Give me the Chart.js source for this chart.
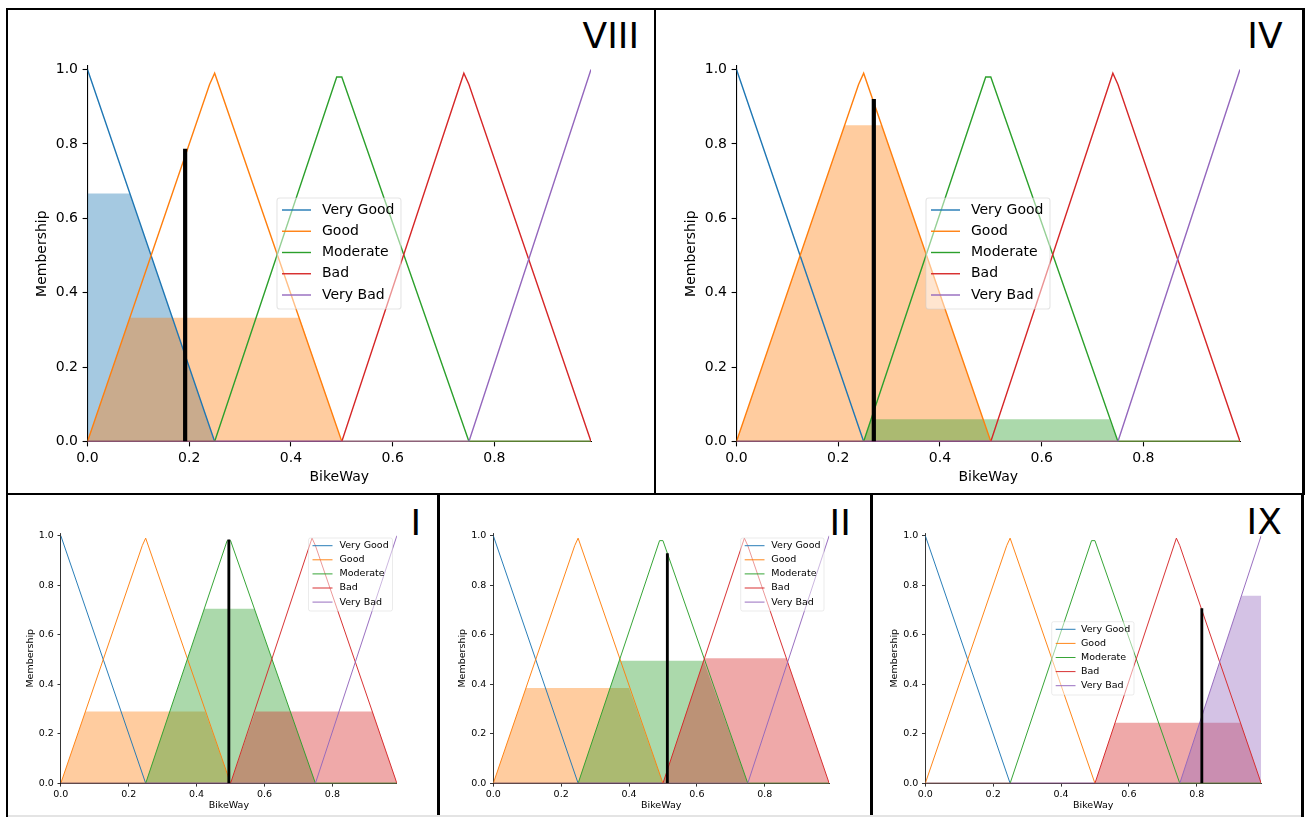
<!DOCTYPE html>
<html>
<head>
<meta charset="utf-8">
<title>BikeWay membership</title>
<script src="https://cdn.jsdelivr.net/npm/chart.js@4.4.1/dist/chart.umd.min.js"></script>
<style>
  html, body { margin: 0; padding: 0; background: #fff; }
  body { width: 1307px; height: 817px; position: relative; overflow: hidden; font-family: "DejaVu Sans", sans-serif; }
  canvas { position: absolute; }
  .rule { position: absolute; background: #000; }
  .tag { position: absolute; font-family: "DejaVu Sans", sans-serif; font-size: 36px; line-height: 36px; color: #000; white-space: nowrap; }
</style>
</head>
<body>
<div class="rule" style="left:6px;top:7.8px;width:1299px;height:2.5px"></div>
<div class="rule" style="left:5.8px;top:7.8px;width:2.5px;height:810px"></div>
<div class="rule" style="left:653.5px;top:7.8px;width:2.5px;height:487px"></div>
<div class="rule" style="left:1302px;top:7.8px;width:2.5px;height:487px"></div>
<div class="rule" style="left:6px;top:492.7px;width:1299px;height:2.5px"></div>
<div class="rule" style="left:437.3px;top:493px;width:2.6px;height:324px"></div>
<div class="rule" style="left:870px;top:493px;width:2.6px;height:324px"></div>
<div class="rule" style="left:1301px;top:493px;width:2.5px;height:324px"></div>
<div class="rule" style="left:8px;top:815px;width:1293px;height:2px;background:#e4e4e4"></div>

<div class="tag" style="left:582.6px;top:17.9px">VIII</div>
<div class="tag" style="left:1247.3px;top:17.9px">IV</div>
<div class="tag" style="left:410.6px;top:505.2px">I</div>
<div class="tag" style="left:829.6px;top:505.2px">II</div>
<div class="tag" style="left:1246.6px;top:504.2px">IX</div>

<script>
// ---- terms of the BikeWay variable ----
const termNames = ['Very Good', 'Good', 'Moderate', 'Bad', 'Very Bad'];
const xTicks = [0, 0.2, 0.4, 0.6, 0.8];
const yTicks = [0, 0.2, 0.4, 0.6, 0.8, 1.0];

// membership function vertices
const veryGoodX = [0, 0.25, 0.99];
const veryGoodY = [1, 0, 0];
const goodX = [0, 0.24, 0.25, 0.5, 0.99];
const goodY = [0, 0.96, 0.99, 0, 0];
const moderateX = [0, 0.25, 0.49, 0.5, 0.75, 0.99];
const moderateY = [0, 0, 0.98, 0.98, 0, 0];
const badX = [0, 0.5, 0.74, 0.75, 0.99];
const badY = [0, 0, 0.99, 0.96, 0];
const veryBadX = [0, 0.75, 0.99];
const veryBadY = [0, 0, 1];

// activated (clipped) terms and crisp output, case VIII
const viiiVeryGoodFillX = [0, 0.083, 0.25];
const viiiVeryGoodFillY = [0.667, 0.667, 0];
const viiiGoodFillX = [0, 0.083, 0.417, 0.5];
const viiiGoodFillY = [0, 0.333, 0.333, 0];
const viiiCrisp = [0.192, 0.787];

// case IV
const ivGoodFillX = [0, 0.2125, 0.285, 0.5];
const ivGoodFillY = [0, 0.85, 0.85, 0];
const ivModerateFillX = [0.25, 0.265, 0.733, 0.75];
const ivModerateFillY = [0, 0.06, 0.06, 0];
const ivCrisp = [0.27, 0.921];

// case I
const iGoodFillX = [0, 0.0725, 0.425, 0.5];
const iGoodFillY = [0, 0.29, 0.29, 0];
const iModerateFillX = [0.25, 0.423, 0.57, 0.75];
const iModerateFillY = [0, 0.705, 0.705, 0];
const iBadFillX = [0.5, 0.573, 0.918, 0.99];
const iBadFillY = [0, 0.29, 0.29, 0];
const iCrisp = [0.495, 0.985];

// case II
const iiGoodFillX = [0, 0.096, 0.4, 0.5];
const iiGoodFillY = [0, 0.385, 0.385, 0];
const iiModerateFillX = [0.25, 0.371, 0.62, 0.75];
const iiModerateFillY = [0, 0.495, 0.495, 0];
const iiBadFillX = [0.5, 0.622, 0.864, 0.99];
const iiBadFillY = [0, 0.505, 0.505, 0];
const iiCrisp = [0.513, 0.929];

// case IX
const ixBadFillX = [0.5, 0.559, 0.929, 0.99];
const ixBadFillY = [0, 0.245, 0.245, 0];
const ixVeryBadFillX = [0.75, 0.932, 0.99];
const ixVeryBadFillY = [0, 0.757, 0.757];
const ixCrisp = [0.815, 0.707];

// ---- styling ----
const FONT = "'DejaVu Sans', sans-serif";
const lineColors = ['#1f77b4', '#ff7f0e', '#2ca02c', '#d62728', '#9467bd'];
const fillColors = ['rgba(31,119,180,0.4)', 'rgba(255,127,14,0.4)', 'rgba(44,160,44,0.4)',
                    'rgba(214,39,40,0.4)', 'rgba(148,103,189,0.4)'];
const curves = [
  [veryGoodX, veryGoodY], [goodX, goodY], [moderateX, moderateY], [badX, badY], [veryBadX, veryBadY]
];

const bigStyle = { font: 14, tick: 4.9, pad: 3.1, spine: 1.1, line: 1.4, crisp: 4.2, yTitleGap: 45.5, legendAlpha: 0.5 };
const smallStyle = { font: 9.5, tick: 3.3, pad: 2.1, spine: 0.8, line: 0.95, crisp: 2.85, yTitleGap: 30.6, legendAlpha: 0.5 };

function toPoints(xs, ys) {
  return xs.map((x, i) => ({ x: x, y: ys[i] }));
}

// legend box drawn inside the plot area
const legendBoxPlugin = {
  id: 'legendBox',
  afterDraw(chart, args, o) {
    const ctx = chart.ctx;
    const ox = o.canvasX, oy = o.canvasY;
    const x0 = o.box[0] - ox, y0 = o.box[1] - oy, x1 = o.box[2] - ox, y1 = o.box[3] - oy;
    const r = o.radius;
    ctx.save();
    ctx.beginPath();
    ctx.moveTo(x0 + r, y0);
    ctx.lineTo(x1 - r, y0); ctx.quadraticCurveTo(x1, y0, x1, y0 + r);
    ctx.lineTo(x1, y1 - r); ctx.quadraticCurveTo(x1, y1, x1 - r, y1);
    ctx.lineTo(x0 + r, y1); ctx.quadraticCurveTo(x0, y1, x0, y1 - r);
    ctx.lineTo(x0, y0 + r); ctx.quadraticCurveTo(x0, y0, x0 + r, y0);
    ctx.closePath();
    ctx.fillStyle = 'rgba(255,255,255,' + o.alpha + ')';
    ctx.fill();
    ctx.strokeStyle = 'rgba(204,204,204,' + o.alpha + ')';
    ctx.lineWidth = o.edge;
    ctx.stroke();
    ctx.font = o.font + 'px ' + FONT;
    ctx.textBaseline = 'middle';
    ctx.textAlign = 'left';
    termNames.forEach((name, i) => {
      const y = o.firstRow + i * o.rowStep - oy;
      ctx.beginPath();
      ctx.moveTo(o.handle[0] - ox, y);
      ctx.lineTo(o.handle[1] - ox, y);
      ctx.strokeStyle = lineColors[i];
      ctx.lineWidth = o.lineWidth;
      ctx.stroke();
      ctx.fillStyle = '#000';
      ctx.fillText(name, o.textX - ox, y);
    });
    ctx.restore();
  }
};

function buildPanel(p) {
  const s = p.style;
  const canvas = document.createElement('canvas');
  canvas.width = p.cw; canvas.height = p.ch;
  canvas.style.left = p.cx + 'px'; canvas.style.top = p.cy + 'px';
  canvas.style.width = p.cw + 'px'; canvas.style.height = p.ch + 'px';
  document.body.appendChild(canvas);

  const datasets = [];
  p.fills.forEach((f, k) => datasets.push({
    data: toPoints(f[1], f[2]), showLine: true, fill: 'origin',
    backgroundColor: fillColors[f[0]], borderColor: 'rgba(0,0,0,0)', borderWidth: 0,
    pointRadius: 0, order: 40 - k
  }));
  curves.forEach((c, i) => datasets.push({
    data: toPoints(c[0], c[1]), showLine: true, fill: false,
    borderColor: lineColors[i], borderWidth: s.line, pointRadius: 0, order: 20 - i
  }));
  datasets.push({
    data: [{ x: p.crisp[0], y: 0 }, { x: p.crisp[0], y: p.crisp[1] }], showLine: true, fill: false,
    borderColor: '#000', borderWidth: s.crisp, pointRadius: 0, order: 0
  });

  const lh = s.font * 1.2;
  new Chart(canvas, {
    type: 'scatter',
    data: { datasets },
    options: {
      responsive: false, animation: false, devicePixelRatio: 1,
      layout: { padding: { left: 0, top: p.T - p.cy, right: p.cx + p.cw - p.R, bottom: 0 } },
      plugins: {
        legend: { display: false }, tooltip: { enabled: false },
        legendBox: {
          canvasX: p.cx, canvasY: p.cy, box: p.legend.box, firstRow: p.legend.firstRow,
          rowStep: p.legend.rowStep, handle: p.legend.handle, textX: p.legend.textX,
          font: s.font, lineWidth: s.line, alpha: s.legendAlpha, edge: s.spine, radius: s.font * 0.2
        }
      },
      scales: {
        x: {
          type: 'linear', min: 0, max: 0.99, z: 1,
          afterBuildTicks: a => { a.ticks = xTicks.map(v => ({ value: v })); },
          afterFit: a => { a.height = p.cy + p.ch - p.B; },
          ticks: { callback: v => Number(v).toFixed(1), font: { family: FONT, size: s.font }, color: '#000',
                   padding: s.pad, maxRotation: 0, autoSkip: false },
          grid: { drawOnChartArea: false, drawTicks: true, tickLength: s.tick, tickWidth: s.spine,
                  tickColor: '#000', color: '#000' },
          border: { display: true, color: '#000', width: s.spine },
          title: { display: true, text: 'BikeWay', color: '#000', font: { family: FONT, size: s.font },
                   padding: { top: 0, bottom: p.ch - lh / 2 - (p.xTitleY - p.cy) } }
        },
        y: {
          type: 'linear', min: 0, max: 1.01, z: 1,
          afterBuildTicks: a => { a.ticks = yTicks.map(v => ({ value: v })); },
          afterFit: a => { a.width = p.L - p.cx; },
          ticks: { callback: v => Number(v).toFixed(1), font: { family: FONT, size: s.font }, color: '#000',
                   padding: s.pad + 1.5, autoSkip: false },
          grid: { drawOnChartArea: false, drawTicks: true, tickLength: s.tick, tickWidth: s.spine,
                  tickColor: '#000', color: '#000' },
          border: { display: true, color: '#000', width: s.spine },
          title: { display: true, text: 'Membership', color: '#000', font: { family: FONT, size: s.font },
                   padding: { top: (p.L - s.yTitleGap) - p.cx - lh / 2, bottom: 0 } }
        }
      }
    },
    plugins: [legendBoxPlugin]
  });
}

// ---- the five cases ----
const panels = [
  { style: bigStyle, cx: 9, cy: 10, cw: 644, ch: 482, L: 87.5, R: 591, T: 65.8, B: 441.5, xTitleY: 477.5,
    fills: [[0, viiiVeryGoodFillX, viiiVeryGoodFillY], [1, viiiGoodFillX, viiiGoodFillY]], crisp: viiiCrisp,
    legend: { box: [277, 198, 401, 309], firstRow: 210, rowStep: 21.25, handle: [282, 311], textX: 322 } },
  { style: bigStyle, cx: 657, cy: 10, cw: 645, ch: 482, L: 736.5, R: 1240, T: 65.8, B: 441.5, xTitleY: 477.5,
    fills: [[1, ivGoodFillX, ivGoodFillY], [2, ivModerateFillX, ivModerateFillY]], crisp: ivCrisp,
    legend: { box: [926, 198, 1050, 309], firstRow: 210, rowStep: 21.25, handle: [931, 960], textX: 971 } },
  { style: smallStyle, cx: 8.5, cy: 496, cw: 428.5, ch: 321, L: 60.3, R: 396.9, T: 533.2, B: 783.3, xTitleY: 806,
    fills: [[1, iGoodFillX, iGoodFillY], [2, iModerateFillX, iModerateFillY], [3, iBadFillX, iBadFillY]], crisp: iCrisp,
    legend: { box: [308, 538, 392, 611], firstRow: 545.7, rowStep: 14.1, handle: [312, 332], textX: 339 } },
  { style: smallStyle, cx: 440, cy: 496, cw: 430, ch: 321, L: 493.3, R: 829.2, T: 533.2, B: 783.3, xTitleY: 806,
    fills: [[1, iiGoodFillX, iiGoodFillY], [2, iiModerateFillX, iiModerateFillY], [3, iiBadFillX, iiBadFillY]], crisp: iiCrisp,
    legend: { box: [740.7, 538, 824, 611], firstRow: 545.7, rowStep: 14.1, handle: [744.7, 764.5], textX: 771.3 } },
  { style: smallStyle, cx: 873, cy: 496, cw: 428, ch: 321, L: 925.3, R: 1261.2, T: 533.2, B: 783.3, xTitleY: 806,
    fills: [[3, ixBadFillX, ixBadFillY], [4, ixVeryBadFillX, ixVeryBadFillY]], crisp: ixCrisp,
    legend: { box: [1051.7, 621.7, 1134, 695], firstRow: 629.3, rowStep: 14.1, handle: [1055.7, 1075.5], textX: 1081 } }
];

panels.forEach(buildPanel);
</script>
</body>
</html>
